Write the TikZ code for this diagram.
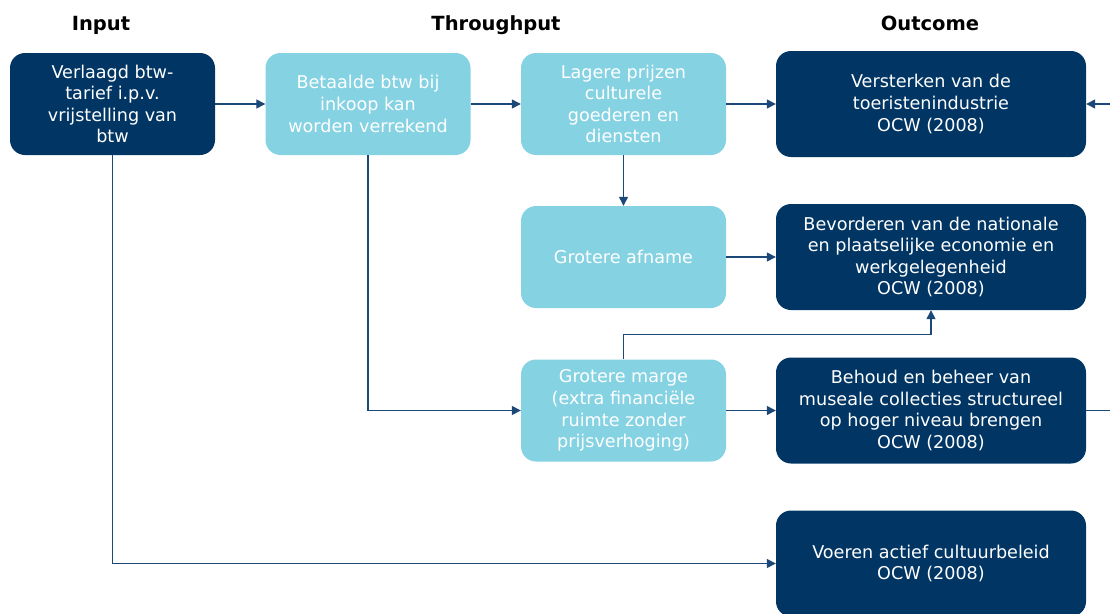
\documentclass[tikz,border=0pt]{standalone}
\usepackage{fontspec}
\setmainfont{DejaVu Sans}
\usetikzlibrary{arrows.meta,positioning}
\definecolor{navy}{RGB}{1,54,100}
\definecolor{lightb}{RGB}{133,210,227}
\definecolor{linec}{RGB}{28,72,120}
\tikzset{
  boxbase/.style={rectangle, rounded corners=15pt, align=center, text=white,
    font=\fontsize{17.6}{21.6}\selectfont, inner sep=2pt},
  darkbox/.style={boxbase, fill=navy, minimum width=310pt, minimum height=106pt},
  inbox/.style={boxbase, fill=navy, minimum width=205pt, minimum height=102pt},
  lightbox/.style={boxbase, fill=lightb, minimum width=205pt, minimum height=102pt},
  hdr/.style={font=\fontsize{19.5}{22}\selectfont\bfseries, text=black, anchor=base},
  conn/.style={draw=linec, line width=1.3pt, -{Triangle[length=9pt,width=9pt]}},
  connplain/.style={draw=linec, line width=1.3pt}
}
\begin{document}
\begin{tikzpicture}[x=1pt,y=-1pt]
\useasboundingbox (0,0) rectangle (1110,613);
\node[hdr] (hIn) at (101,30) {Input};
\node[hdr] (hTh) at (496,30) {Throughput};
\node[hdr] (hOut) at (930,30) {Outcome};

\node[inbox] (b1) at (112.5,104) {Verlaagd btw-\\tarief i.p.v.\\vrijstelling van\\btw};
\node[lightbox] (b2) at (368,104) {Betaalde btw bij\\inkoop kan\\worden verrekend};
\node[lightbox] (b3) at (623.5,104) {Lagere prijzen\\culturele\\goederen en\\diensten};
\node[darkbox] (b4) at (931,104) {Versterken van de\\toeristenindustrie\\OCW (2008)};
\node[lightbox] (b5) at (623.5,257) {Grotere afname};
\node[darkbox] (b6) at (931,257) {Bevorderen van de nationale\\en plaatselijke economie en\\werkgelegenheid\\OCW (2008)};
\node[lightbox] (b7) at (623.5,410.5) {Grotere marge\\(extra financiële\\ruimte zonder\\prijsverhoging)};
\node[darkbox] (b8) at (931,410.5) {Behoud en beheer van\\museale collecties structureel\\op hoger niveau brengen\\OCW (2008)};
\node[darkbox] (b9) at (931,563.5) {Voeren actief cultuurbeleid\\OCW (2008)};

\coordinate (rin) at (1110,104);
\coordinate (rout) at (1110,410.5);

\draw[conn] (b1) -- (b2);
\draw[conn] (b2) -- (b3);
\draw[conn] (b3) -- (b4);
\draw[conn] (b3) -- (b5);
\draw[conn] (b5) -- (b6);
\draw[conn] (b7.north) -- ++(0,-25) -| (b6.south);
\draw[conn] (b2.south) |- (b7.west);
\draw[conn] (b7) -- (b8);
\draw[conn] (b1.south) |- (b9.west);
\draw[connplain] (b8.east) -- (rout);
\draw[conn] (rin) -- (b4.east);
\end{tikzpicture}
\end{document}
